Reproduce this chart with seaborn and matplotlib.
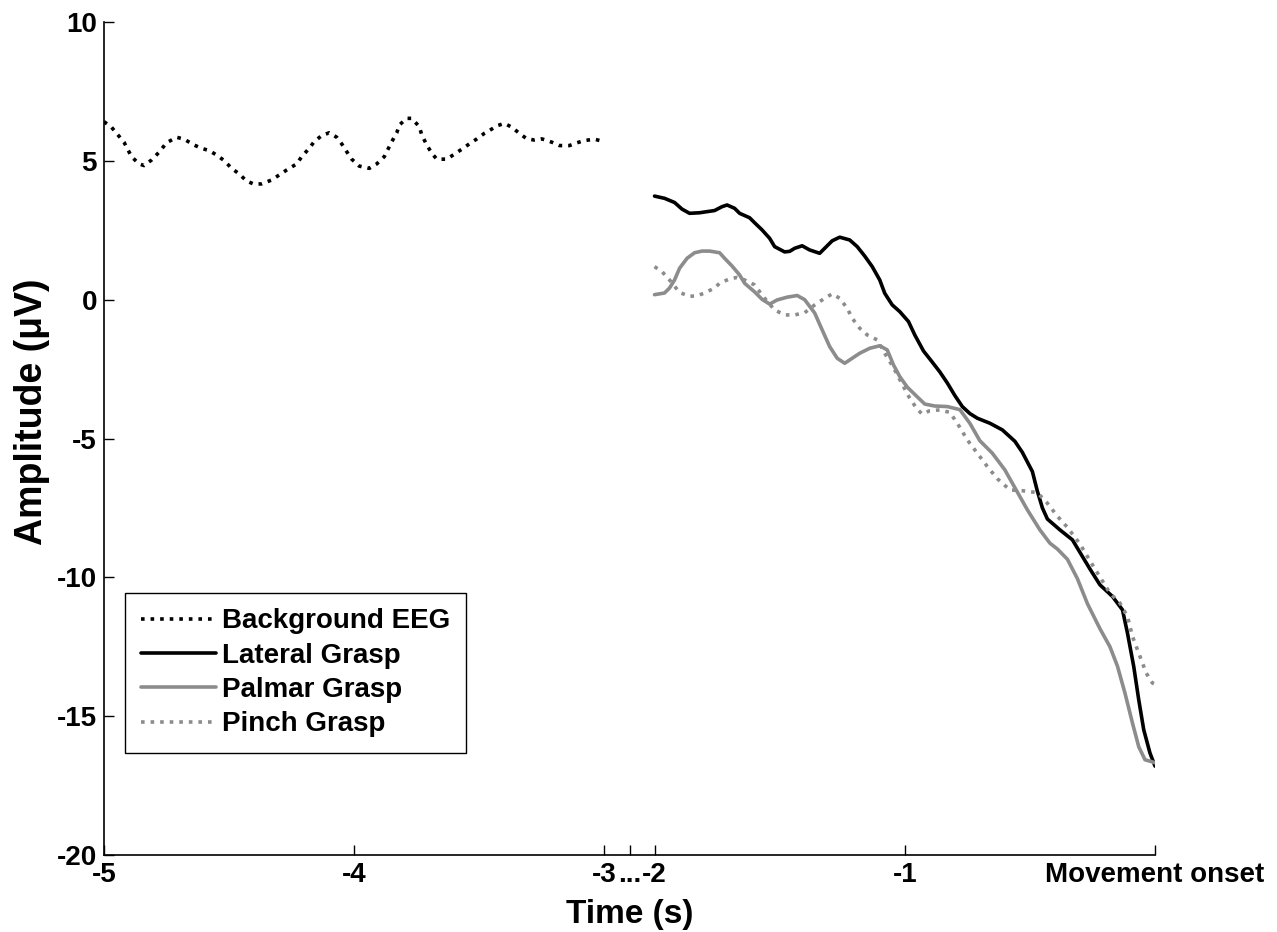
import numpy as np
import pandas as pd
import matplotlib
matplotlib.use("Agg")
import matplotlib.pyplot as plt
import seaborn as sns

# ---------------- data ----------------
bg_time = [-5.00, -4.97, -4.92, -4.89, -4.86, -4.84, -4.81, -4.78, -4.75, -4.71, -4.68, -4.64,
           -4.61, -4.58, -4.55, -4.52, -4.49, -4.46, -4.43, -4.40, -4.37, -4.33, -4.30, -4.27,
           -4.23, -4.21, -4.18, -4.16, -4.13, -4.10, -4.07, -4.05, -4.03, -4.01, -3.98, -3.94,
           -3.91, -3.88, -3.85, -3.83, -3.82, -3.79, -3.77, -3.74, -3.73, -3.71, -3.69, -3.67,
           -3.63, -3.60, -3.57, -3.54, -3.51, -3.48, -3.46, -3.43, -3.40, -3.37, -3.34, -3.31,
           -3.28, -3.25, -3.21, -3.18, -3.14, -3.11, -3.08, -3.04, -3.01]
bg_amp = [6.41, 6.21, 5.67, 5.15, 4.89, 4.83, 5.03, 5.31, 5.65, 5.85, 5.78, 5.57,
          5.45, 5.37, 5.21, 5.01, 4.73, 4.53, 4.27, 4.16, 4.17, 4.31, 4.49, 4.67,
          4.89, 5.15, 5.45, 5.69, 5.91, 6.01, 5.85, 5.61, 5.33, 5.06, 4.81, 4.73,
          4.89, 5.15, 5.69, 6.01, 6.29, 6.53, 6.53, 6.23, 5.93, 5.57, 5.27, 5.06,
          5.06, 5.24, 5.42, 5.61, 5.79, 5.99, 6.09, 6.26, 6.35, 6.21, 5.99, 5.79,
          5.75, 5.79, 5.67, 5.55, 5.55, 5.65, 5.73, 5.78, 5.71]

lat_time = [-2.00, -1.96, -1.92, -1.89, -1.86, -1.82, -1.79, -1.76, -1.73, -1.71, -1.68, -1.66,
            -1.62, -1.60, -1.57, -1.54, -1.52, -1.48, -1.46, -1.44, -1.41, -1.38, -1.34, -1.32,
            -1.29, -1.26, -1.22, -1.19, -1.16, -1.13, -1.10, -1.08, -1.05, -1.02, -0.985, -0.96,
            -0.925, -0.89, -0.86, -0.83, -0.80, -0.77, -0.74, -0.71, -0.66, -0.61, -0.56, -0.53,
            -0.49, -0.47, -0.45, -0.43, -0.38, -0.33, -0.30, -0.26, -0.22, -0.17, -0.13, -0.11,
            -0.085, -0.065, -0.045, -0.02, 0.0]
lat_amp = [3.73, 3.65, 3.50, 3.26, 3.11, 3.13, 3.17, 3.21, 3.35, 3.41, 3.29, 3.11,
           2.95, 2.77, 2.51, 2.21, 1.91, 1.72, 1.74, 1.85, 1.94, 1.79, 1.67, 1.85,
           2.12, 2.25, 2.15, 1.91, 1.57, 1.19, 0.71, 0.23, -0.19, -0.43, -0.79, -1.27,
           -1.85, -2.25, -2.60, -3.00, -3.45, -3.85, -4.10, -4.27, -4.45, -4.69, -5.10, -5.50,
           -6.19, -6.90, -7.50, -7.90, -8.29, -8.65, -9.10, -9.70, -10.27, -10.69, -11.17, -12.01,
           -13.21, -14.41, -15.49, -16.33, -16.80]

pal_time = [-2.00, -1.96, -1.94, -1.92, -1.90, -1.87, -1.84, -1.81, -1.78, -1.74, -1.72, -1.69,
            -1.66, -1.64, -1.60, -1.57, -1.54, -1.51, -1.47, -1.43, -1.40, -1.36, -1.33, -1.30,
            -1.27, -1.24, -1.21, -1.18, -1.14, -1.10, -1.07, -1.045, -1.02, -0.99, -0.95, -0.92,
            -0.88, -0.83, -0.78, -0.74, -0.70, -0.65, -0.60, -0.555, -0.51, -0.46, -0.42, -0.39,
            -0.35, -0.31, -0.27, -0.22, -0.18, -0.15, -0.12, -0.09, -0.065, -0.04, -0.013, 0.0]
pal_amp = [0.18, 0.24, 0.42, 0.71, 1.13, 1.49, 1.69, 1.75, 1.75, 1.69, 1.49, 1.21,
           0.89, 0.59, 0.28, 0.01, -0.16, -0.01, 0.09, 0.15, 0.00, -0.48, -1.09, -1.69,
           -2.11, -2.29, -2.11, -1.93, -1.75, -1.66, -1.81, -2.35, -2.77, -3.15, -3.50, -3.76,
           -3.83, -3.85, -3.96, -4.45, -5.08, -5.53, -6.13, -6.85, -7.57, -8.29, -8.77, -8.98,
           -9.35, -10.05, -10.95, -11.85, -12.50, -13.20, -14.17, -15.25, -16.10, -16.57, -16.64, -16.68]

pin_time = [-2.00, -1.97, -1.94, -1.90, -1.86, -1.83, -1.80, -1.76, -1.74, -1.70, -1.67, -1.64,
            -1.60, -1.58, -1.56, -1.52, -1.48, -1.44, -1.40, -1.36, -1.32, -1.29, -1.26, -1.23,
            -1.21, -1.18, -1.15, -1.11, -1.08, -1.045, -1.01, -0.98, -0.95, -0.93, -0.90, -0.86,
            -0.82, -0.79, -0.75, -0.71, -0.67, -0.63, -0.58, -0.53, -0.47, -0.43, -0.39, -0.35,
            -0.30, -0.25, -0.18, -0.14, -0.11, -0.09, -0.06, -0.035, -0.01, 0.0]
pin_amp = [1.19, 1.01, 0.71, 0.26, 0.12, 0.14, 0.24, 0.42, 0.59, 0.75, 0.80, 0.71,
           0.53, 0.29, 0.05, -0.37, -0.55, -0.55, -0.47, -0.19, 0.05, 0.21, 0.05, -0.31,
           -0.67, -1.03, -1.27, -1.45, -1.93, -2.45, -3.05, -3.55, -3.95, -4.12, -4.00, -3.97,
           -4.06, -4.45, -5.05, -5.53, -6.01, -6.45, -6.85, -6.88, -6.95, -7.33, -7.80, -8.20,
           -8.80, -9.55, -10.57, -10.93, -11.41, -12.13, -12.85, -13.45, -13.81, -13.85]

series_names = ["Background EEG", "Lateral Grasp", "Palmar Grasp", "Pinch Grasp"]
x_tick_values = [-5, -4, -3, -2.5, -2, -1, 0]
x_tick_labels = ["-5", "-4", "-3", "...", "-2", "-1", "Movement onset"]
y_tick_values = [-20, -15, -10, -5, 0, 5, 10]

# ---------------- styling ----------------
sns.set_style("ticks")
plt.rcParams["font.family"] = ["Liberation Sans", "DejaVu Sans"]
plt.rcParams["font.weight"] = "bold"
for key in ["text.color", "axes.labelcolor", "xtick.color", "ytick.color", "axes.edgecolor"]:
    plt.rcParams[key] = "black"

colors = {"Background EEG": "black", "Lateral Grasp": "black",
          "Palmar Grasp": "#8c8c8c", "Pinch Grasp": "#8c8c8c"}
styles = {"Background EEG": ":", "Lateral Grasp": "-",
          "Palmar Grasp": "-", "Pinch Grasp": ":"}

frames = []
for name, t, a in zip(series_names, [bg_time, lat_time, pal_time, pin_time],
                      [bg_amp, lat_amp, pal_amp, pin_amp]):
    frames.append(pd.DataFrame({"Time": t, "Amplitude": a, "Condition": name}))
df = pd.concat(frames, ignore_index=True)

fig = plt.figure(figsize=(12.77, 9.32), dpi=100)
W, H = 1277, 932
ax = fig.add_axes([104 / W, 1 - 855 / H, (1155 - 104) / W, (855 - 22) / H])


# broken time axis: the pause between -3 s and -2 s is compressed
def fwd(t):
    t = np.asarray(t, dtype=float)
    return np.where(t <= -3, t, np.where(t >= -2, t - 0.8, -3 + (t + 3) * 0.2))


def inv(p):
    p = np.asarray(p, dtype=float)
    return np.where(p <= -3, p, np.where(p >= -2.8, p + 0.8, -3 + (p + 3) / 0.2))


ax.set_xscale("function", functions=(fwd, inv))

for name in series_names:
    sub = df[df["Condition"] == name]
    sns.lineplot(data=sub, x="Time", y="Amplitude", ax=ax, color=colors[name],
                 linestyle=styles[name], linewidth=2.6, sort=False, estimator=None,
                 label=name)

ax.set_xlim(-5, 0)
ax.set_ylim(-20, 10)
ax.set_xticks(x_tick_values)
ax.set_xticklabels(x_tick_labels)
ax.set_yticks(y_tick_values)
ax.set_yticklabels([str(v) for v in y_tick_values])
ax.xaxis.set_minor_locator(matplotlib.ticker.NullLocator())
ax.tick_params(direction="in", length=7, width=1.0, labelsize=20, pad=5, colors="black")
ax.tick_params(axis="y", pad=5)
for lab in ax.get_xticklabels() + ax.get_yticklabels():
    lab.set_fontweight("bold")

sns.despine(ax=ax)
for sp in ["left", "bottom"]:
    ax.spines[sp].set_linewidth(1.2)
    ax.spines[sp].set_color("black")

ax.set_xlabel("Time (s)", fontsize=24, fontweight="bold", labelpad=8)
ax.set_ylabel("Amplitude (μV)", fontsize=27, fontweight="bold")
ax.yaxis.set_label_coords(-0.051, 0.532)

leg = ax.legend(loc="lower left", bbox_to_anchor=(21 / 1051, 102 / 833),
                borderaxespad=0, frameon=True, fancybox=False,
                handlelength=2.7, handletextpad=0.25, labelspacing=0.3,
                borderpad=0.56, prop={"weight": "bold", "size": 20})
leg.get_frame().set_edgecolor("black")
leg.get_frame().set_linewidth(1.0)
leg.get_frame().set_alpha(1)

fig.savefig("out.png", dpi=100)
